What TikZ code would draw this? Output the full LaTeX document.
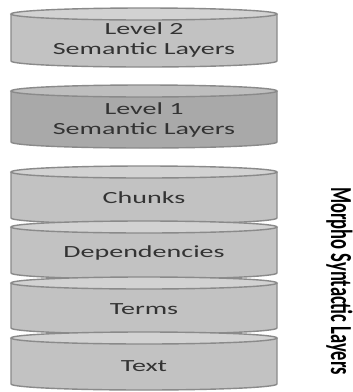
\documentclass[tikz,border=0pt]{standalone}
\usepackage{fontspec}
\setmainfont{Carlito}
\usepackage{graphicx}
\definecolor{outl}{HTML}{8A8A8A}
\definecolor{bodyA}{HTML}{C2C2C2}
\definecolor{topA}{HTML}{D2D2D2}
\definecolor{bodyB}{HTML}{A9A9A9}
\definecolor{topB}{HTML}{BEBEBE}
\definecolor{txt}{HTML}{333333}
\newcommand{\mycyl}[4]{%
  \fill[#3] (11,#1) -- (11,#2) arc[start angle=180,end angle=0,x radius=133,y radius=6] -- (277,#1) -- cycle;
  \draw[edge] (11,#1) -- (11,#2) arc[start angle=180,end angle=0,x radius=133,y radius=6] -- (277,#1);
  \filldraw[edge, fill=#4] (144,#1) ellipse[x radius=133, y radius=6];
}
\newcommand{\wide}[1]{\scalebox{1.65}[1]{#1}}
\begin{document}
\begin{tikzpicture}[x=1pt,y=-1pt,
  edge/.style={draw=outl, line width=1.4pt},
  lbl/.style={text=txt, font=\fontsize{17}{20}\selectfont, align=center, inner sep=0pt}]
\useasboundingbox (0,0) rectangle (353,392);
\fill[white] (0,0) rectangle (353,392);
\mycyl{14}{61}{bodyA}{topA}
\mycyl{91}{142}{bodyB}{topB}
\mycyl{172}{218}{bodyA}{topA}
\mycyl{227}{273}{bodyA}{topA}
\mycyl{283}{328}{bodyA}{topA}
\mycyl{338}{384}{bodyA}{topA}
\node[lbl] (l2) at (144,40) {\wide{Level 2}\\\wide{Semantic Layers}};
\node[lbl] (l1) at (144,120) {\wide{Level 1}\\\wide{Semantic Layers}};
\node[lbl] (chunks) at (144,198) {\wide{Chunks}};
\node[lbl] (deps) at (144,253) {\wide{Dependencies}};
\node[lbl] (terms) at (144,309) {\wide{Terms}};
\node[lbl] (text) at (144,366) {\wide{Text}};
\node[rotate=-90, anchor=base, inner sep=0pt, font=\fontsize{18.5}{20}\selectfont\bfseries] (msl) at (331,281) {\scalebox{1}[1.65]{Morpho Syntactic Layers}};
\end{tikzpicture}
\end{document}
